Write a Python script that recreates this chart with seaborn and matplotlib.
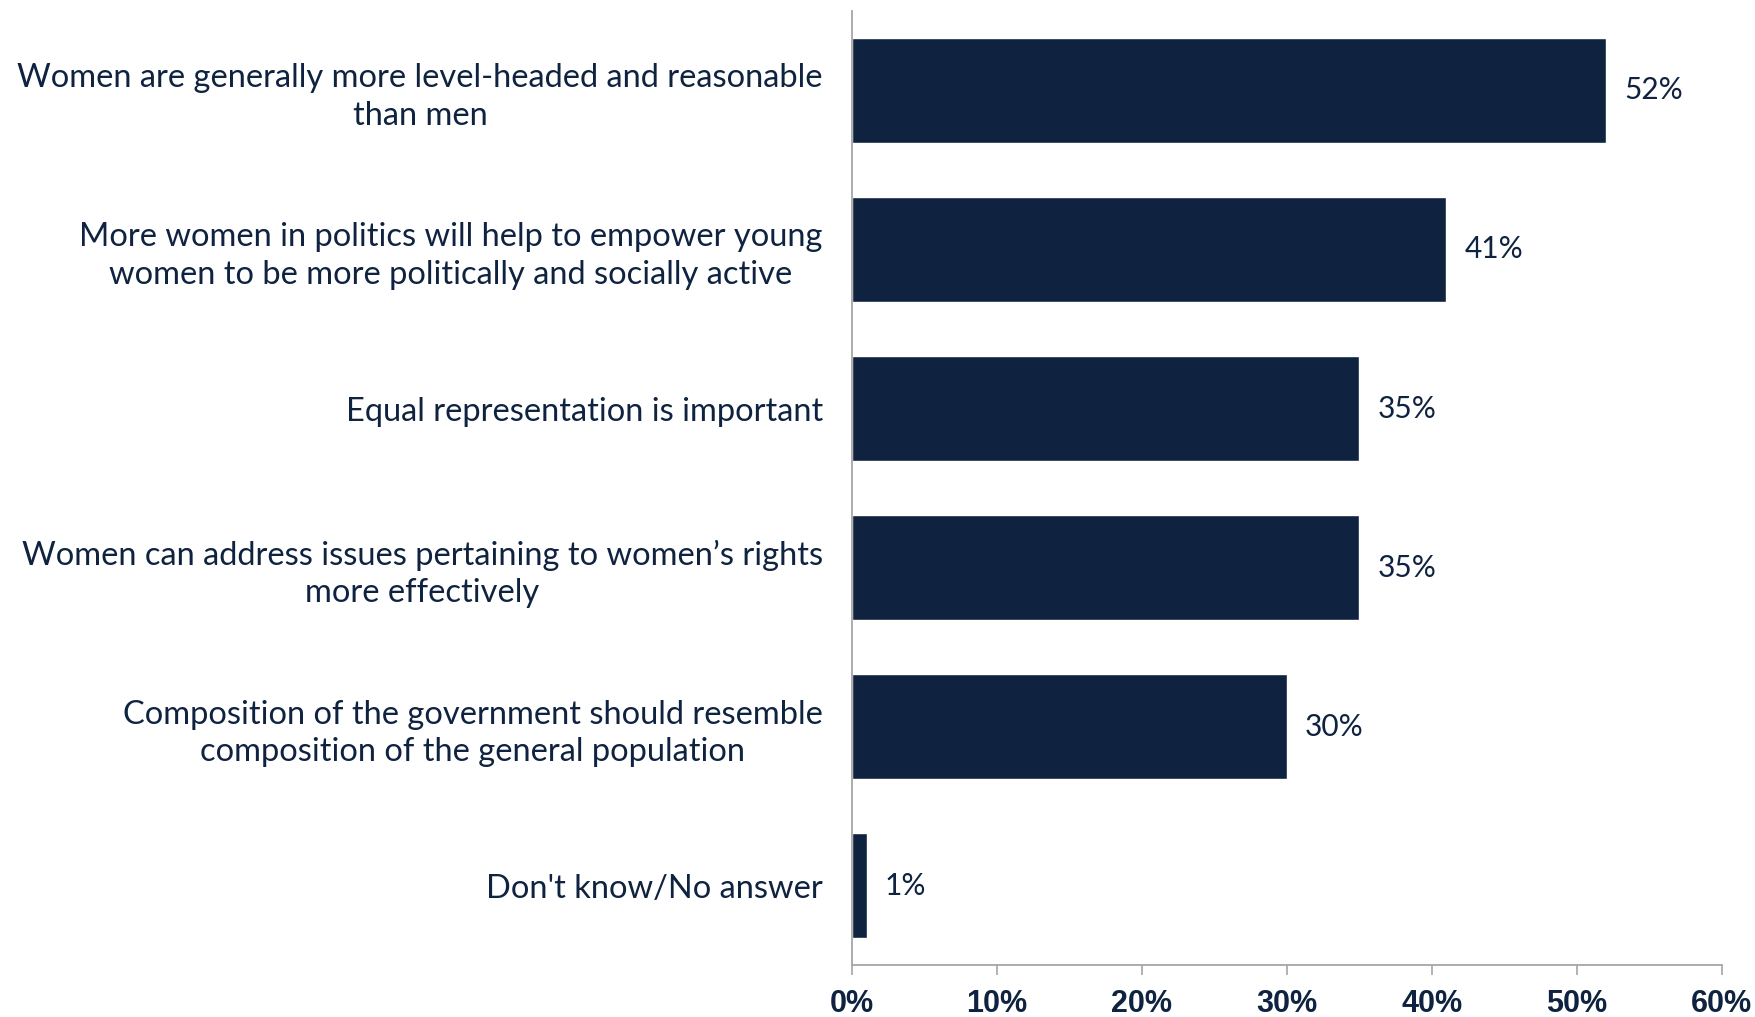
import matplotlib
matplotlib.use("Agg")
import matplotlib.pyplot as plt
import seaborn as sns
import pandas as pd
from matplotlib.ticker import FuncFormatter

categories = [
    "Women are generally more level-headed and reasonable\nthan men",
    "More women in politics will help to empower young\nwomen to be more politically and socially active",
    "Equal representation is important",
    "Women can address issues pertaining to women\u2019s rights\nmore effectively",
    "Composition of the government should resemble\ncomposition of the general population",
    "Don't know/No answer",
]
values = [52, 41, 35, 35, 30, 1]
x_ticks = [0, 10, 20, 30, 40, 50, 60]

NAVY = "#0F2340"
GRAY = "#A6A6A6"

sns.set_style("white")
plt.rcParams["font.family"] = ["Lato", "DejaVu Sans"]

df = pd.DataFrame({"category": categories, "value": values})

fig = plt.figure(figsize=(17.56, 10.17), dpi=100)
ax = fig.add_axes([0.4852, 0.0511, 0.9806 - 0.4852, 0.9892 - 0.0511])

sns.barplot(data=df, x="value", y="category", orient="h", color=NAVY,
            saturation=1, width=0.66, ax=ax)

ax.set_xlim(0, 60)
ax.set_ylim(5.5, -0.5)
ax.set_xticks(x_ticks)
ax.xaxis.set_major_formatter(FuncFormatter(lambda v, p: f"{int(v)}%"))
ax.set_xlabel("")
ax.set_ylabel("")

for s in ["top", "right"]:
    ax.spines[s].set_visible(False)
for s in ["left", "bottom"]:
    ax.spines[s].set_color(GRAY)
    ax.spines[s].set_linewidth(1.3)

ax.tick_params(axis="x", length=7, width=1.2, color=GRAY, pad=10,
               labelsize=22, labelcolor=NAVY, bottom=True)
ax.tick_params(axis="y", length=0, pad=21, labelsize=23.5, labelcolor=NAVY, left=False)
for lab in ax.get_xticklabels():
    lab.set_fontweight("bold")
    lab.set_fontfamily(["Liberation Sans", "DejaVu Sans"])
for lab in ax.get_yticklabels():
    lab.set_multialignment("center")
    lab.set_linespacing(1.3)

ax.bar_label(ax.containers[0], labels=[f"{v}%" for v in values], padding=13,
             fontsize=21.5, color=NAVY)

fig.savefig("out.png", dpi=100, facecolor="white")
